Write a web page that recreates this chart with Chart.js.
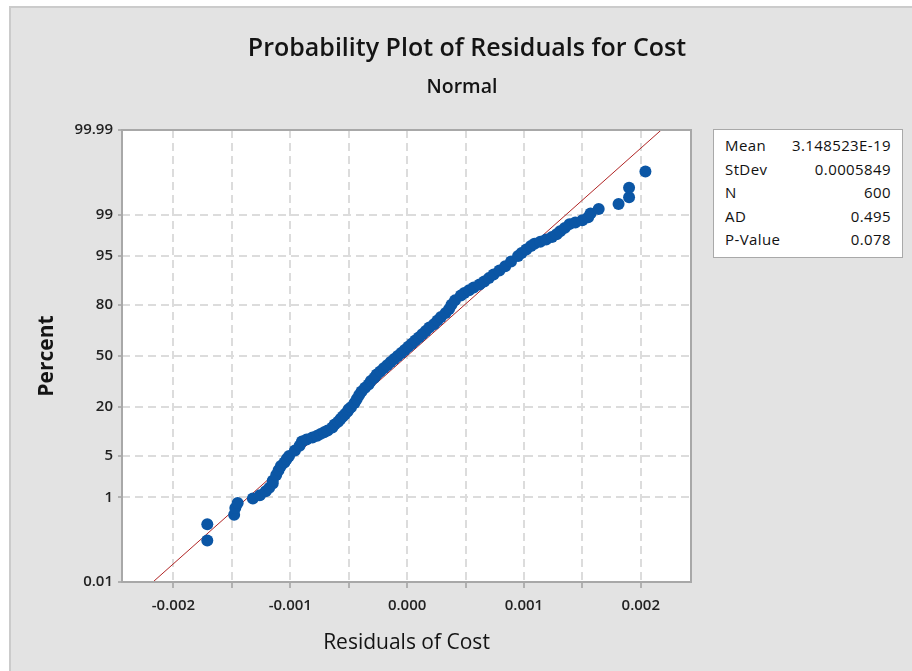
<!DOCTYPE html>
<html>
<head>
<meta charset="utf-8">
<title>Probability Plot of Residuals for Cost</title>
<script src="https://cdn.jsdelivr.net/npm/chart.js@4.4.1/dist/chart.umd.min.js"></script>
<style>
  html, body { margin: 0; padding: 0; background: #ffffff; }
  #wrap { position: relative; width: 912px; height: 671px; overflow: hidden; }
  #frame { position: absolute; left: 9px; top: 6px; right: 0; bottom: 0;
           background: #e3e3e3; border-top: 2px solid #cbcbcb; border-left: 2px solid #cbcbcb; }
  #chart { position: absolute; left: 0; top: 0; }
  .head { position: absolute; text-align: center; font-family: 'Open Sans', sans-serif; color: #141414; white-space: nowrap; }
  #title { left: 0; width: 934px; top: 29px; font-size: 25px; font-weight: 600; }
  #subtitle { left: 0; width: 924px; top: 72px; font-size: 19.5px; font-weight: 600; }
  #stats { position: absolute; left: 713px; top: 129px; width: 190px; height: 129px; box-sizing: border-box;
           background: #ffffff; border: 1px solid #a9a9a9; padding: 4px 11px 0 11px;
           font-family: 'Open Sans', sans-serif; font-size: 15px; letter-spacing: 0.4px; color: #111111; }
  #stats .row { display: flex; justify-content: space-between; height: 23.5px; line-height: 23.5px; }
</style>
</head>
<body>
<div id="wrap">
  <div id="frame"></div>
  <canvas id="chart" width="912" height="671"></canvas>
  <div id="title" class="head">Probability Plot of Residuals for Cost</div>
  <div id="subtitle" class="head">Normal</div>
  <div id="stats"></div>
</div>
<script>
// Cumulative percent of each plotted residual (normal probability scale)
const percents = [
  0.12, 0.28, 0.45, 0.62, 0.78, 0.95, 1.1, 1.3, 1.5, 1.8,
  2, 2.5, 3, 3.5, 4, 4.5, 5, 6, 7, 8,
  8.5, 9, 9.5, 10, 10.5, 11, 12, 13, 14, 15,
  16, 17, 18, 19, 20, 22, 24, 26, 28, 30,
  32, 34, 36, 38, 40, 42, 44, 46, 48, 50,
  52, 54, 56, 58, 60, 62, 64, 66, 68, 70,
  72, 74, 76, 78, 80, 82, 84, 85, 86, 87,
  88, 89, 90, 91, 92, 93, 94, 95, 95.5, 96,
  96.5, 96.75, 97, 97.25, 97.5, 97.75, 98, 98.25, 98.5, 98.6,
  98.72, 98.88, 99.05, 99.22, 99.38, 99.55, 99.72, 99.88
];

// Residuals of Cost at those percents
const residuals = [
  -0.00171, -0.00171, -0.00148, -0.00147, -0.00145, -0.00132, -0.00126, -0.00121, -0.00118, -0.00115,
  -0.00115, -0.00112, -0.00110, -0.00108, -0.00105, -0.00103, -0.00101, -0.00096, -0.00092, -0.00090,
  -0.00086, -0.00081, -0.00077, -0.00074, -0.00071, -0.00068, -0.00064, -0.00062, -0.00059, -0.00057,
  -0.00055, -0.00053, -0.00051, -0.00050, -0.00048, -0.00045, -0.00043, -0.00041, -0.00039, -0.00036,
  -0.00033, -0.00031, -0.00028, -0.00026, -0.00023, -0.00020, -0.00017, -0.00014, -0.00011, -0.00008,
  -0.00005, -0.00002, 0.00001, 0.00004, 0.00007, 0.00010, 0.00013, 0.00016, 0.00019, 0.00023,
  0.00026, 0.00029, 0.00033, 0.00036, 0.00038, 0.00041, 0.00046, 0.00049, 0.00053, 0.00057,
  0.00062, 0.00066, 0.00070, 0.00074, 0.00079, 0.00084, 0.00089, 0.00095, 0.00098, 0.00102,
  0.00106, 0.00109, 0.00114, 0.00119, 0.00124, 0.00128, 0.00131, 0.00135, 0.00139, 0.00144,
  0.00150, 0.00155, 0.00157, 0.00164, 0.00181, 0.00190, 0.00190, 0.00204
];

const yTickPercents = [0.01, 1, 5, 20, 50, 80, 95, 99, 99.99];
const yTickLabels = ['0.01', '1', '5', '20', '50', '80', '95', '99', '99.99'];
const xTickValues = [-0.002, -0.0015, -0.001, -0.0005, 0, 0.0005, 0.001, 0.0015, 0.002];
const xTickLabels = ['-0.002', '', '-0.001', '', '0.000', '', '0.001', '', '0.002'];

const statNames = ['Mean', 'StDev', 'N', 'AD', 'P-Value'];
const statValues = ['3.148523E-19', '0.0005849', '600', '0.495', '0.078'];
const MEAN = 3.148523e-19;
const STDEV = 0.0005849;

// Inverse of the standard normal CDF (Acklam's rational approximation)
function probit(p) {
  const a = [-3.969683028665376e+01, 2.209460984245205e+02, -2.759285104469687e+02, 1.383577518672690e+02, -3.066479806614716e+01, 2.506628277459239e+00];
  const b = [-5.447609879822406e+01, 1.615858368580409e+02, -1.556989798598866e+02, 6.680131188771972e+01, -1.328068155288572e+01];
  const c = [-7.784894002430293e-03, -3.223964580411365e-01, -2.400758277161838e+00, -2.549732539343734e+00, 4.374664141464968e+00, 2.938163982698783e+00];
  const d = [7.784695709041462e-03, 3.224671290700398e-01, 2.445134137142996e+00, 3.754408661907416e+00];
  const pl = 0.02425, ph = 1 - pl;
  let q, r;
  if (p < pl) {
    q = Math.sqrt(-2 * Math.log(p));
    return (((((c[0]*q + c[1])*q + c[2])*q + c[3])*q + c[4])*q + c[5]) / ((((d[0]*q + d[1])*q + d[2])*q + d[3])*q + 1);
  }
  if (p > ph) {
    q = Math.sqrt(-2 * Math.log(1 - p));
    return -(((((c[0]*q + c[1])*q + c[2])*q + c[3])*q + c[4])*q + c[5]) / ((((d[0]*q + d[1])*q + d[2])*q + d[3])*q + 1);
  }
  q = p - 0.5; r = q * q;
  return (((((a[0]*r + a[1])*r + a[2])*r + a[3])*r + a[4])*r + a[5])*q / (((((b[0]*r + b[1])*r + b[2])*r + b[3])*r + b[4])*r + 1);
}

// Statistics table
const statsBox = document.getElementById('stats');
statNames.forEach((name, i) => {
  const row = document.createElement('div');
  row.className = 'row';
  const k = document.createElement('span'); k.textContent = name;
  const v = document.createElement('span'); v.textContent = statValues[i];
  row.appendChild(k); row.appendChild(v);
  statsBox.appendChild(row);
});

// Points on the probability scale: y is the normal quantile of the percent
const points = residuals.map((x, i) => ({ x: x, y: probit(percents[i] / 100) }));

// Fitted normal line from the stated mean and standard deviation
const zLow = probit(yTickPercents[0] / 100);
const zHigh = probit(yTickPercents[yTickPercents.length - 1] / 100);
const fitLine = [
  { x: MEAN + zLow * STDEV, y: zLow },
  { x: MEAN + zHigh * STDEV, y: zHigh }
];

// White plot area and grey frame around it
const plotFrame = {
  id: 'plotFrame',
  beforeDraw(chart) {
    const { ctx, chartArea: a } = chart;
    ctx.save();
    ctx.fillStyle = '#ffffff';
    ctx.fillRect(a.left, a.top, a.right - a.left, a.bottom - a.top);
    ctx.restore();
  },
  afterDraw(chart) {
    const { ctx, chartArea: a } = chart;
    ctx.save();
    ctx.strokeStyle = '#a8a8a8';
    ctx.lineWidth = 2;
    ctx.strokeRect(a.left, a.top, a.right - a.left, a.bottom - a.top);
    ctx.restore();
  }
};

const tickFont = { family: 'Open Sans', size: 15, weight: '600' };

new Chart(document.getElementById('chart'), {
  data: {
    datasets: [
      {
        type: 'line',
        data: fitLine,
        borderColor: '#b02424',
        borderWidth: 1,
        pointRadius: 0,
        fill: false,
        order: 2
      },
      {
        type: 'scatter',
        data: points,
        backgroundColor: '#0b56a5',
        borderWidth: 0,
        pointRadius: 6,
        order: 1
      }
    ]
  },
  options: {
    responsive: false,
    animation: false,
    layout: { padding: { left: 0, right: 221, top: 130, bottom: 0 } },
    plugins: { legend: { display: false }, tooltip: { enabled: false } },
    scales: {
      x: {
        type: 'linear',
        min: -0.00244,
        max: 0.00243,
        afterFit(s) { s.height = 89; },
        afterBuildTicks(s) { s.ticks = xTickValues.map(v => ({ value: v })); },
        ticks: {
          autoSkip: false, maxRotation: 0, padding: 9,
          font: tickFont, color: '#222222',
          callback: (v, i) => xTickLabels[i]
        },
        grid: {
          color: '#dcdcdc', lineWidth: 2,
          tickLength: 6, tickColor: '#a0a0a0', tickWidth: 1.5, tickBorderDash: []
        },
        border: { display: false, dash: [8, 5] },
        title: {
          display: true, text: 'Residuals of Cost',
          font: { family: 'Open Sans', size: 21 }, color: '#141414',
          padding: { top: 15, bottom: 15 }
        }
      },
      y: {
        type: 'linear',
        min: zLow,
        max: zHigh,
        afterFit(s) { s.width = 122; },
        afterBuildTicks(s) { s.ticks = yTickPercents.map(p => ({ value: probit(p / 100) })); },
        ticks: {
          autoSkip: false, padding: 5,
          font: tickFont, color: '#222222',
          callback: (v, i) => yTickLabels[i]
        },
        grid: {
          color: '#dcdcdc', lineWidth: 2,
          tickLength: 4, tickColor: '#a0a0a0', tickWidth: 1.5, tickBorderDash: []
        },
        border: { display: false, dash: [8, 5] },
        title: {
          display: true, text: 'Percent',
          font: { family: 'Open Sans', size: 21, weight: 'bold' }, color: '#141414',
          padding: { top: 34, bottom: 34 }
        }
      }
    }
  },
  plugins: [plotFrame]
});
</script>
</body>
</html>
